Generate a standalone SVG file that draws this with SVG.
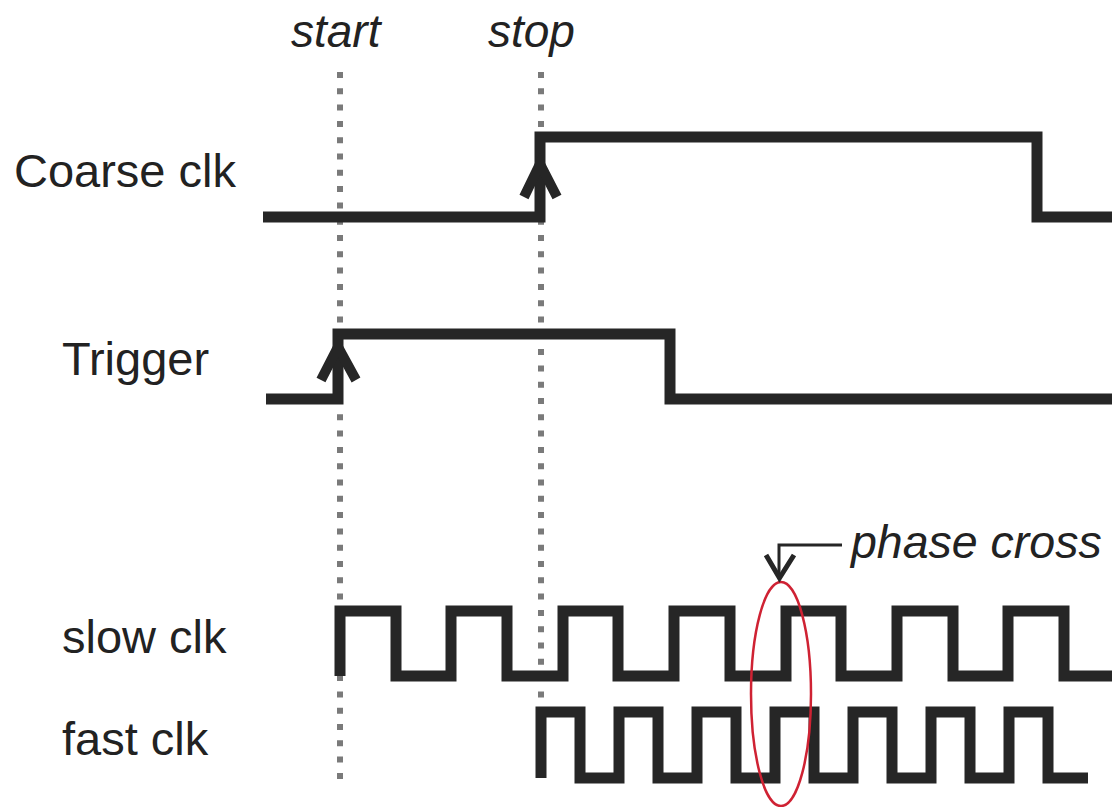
<svg xmlns="http://www.w3.org/2000/svg" width="1112" height="807" viewBox="0 0 1112 807">
<style>
.lbl{font-family:"Liberation Sans",Arial,sans-serif;font-size:47px;fill:#222}
.it{font-style:italic;font-size:46px}
.wave{fill:none;stroke:#262626;stroke-width:11;stroke-linejoin:miter;stroke-linecap:butt}
.chev{fill:none;stroke:#262626;stroke-width:10;stroke-linejoin:miter}
.dot{fill:none;stroke:#7a7a7a;stroke-width:6;stroke-dasharray:6 10.3}
</style>
<rect width="1112" height="807" fill="#fff"/>
<g id="guides">
<line class="dot" x1="340" y1="72" x2="340" y2="780"/>
<line class="dot" x1="541" y1="72" x2="541" y2="698"/>
<text class="lbl it" x="291" y="47">start</text>
<text class="lbl it" x="488" y="47">stop</text>
</g>
<g id="coarse">
<text class="lbl" x="14" y="187">Coarse clk</text>
<path class="wave" d="M263,217 H540 V137 H1037 V217 H1112"/>
<path class="chev" d="M524,197 L540,164 L557,197"/>
</g>
<g id="trigger">
<text class="lbl" x="62" y="375">Trigger</text>
<path class="wave" d="M266,399 H338 V334 H670 V399 H1112"/>
<path class="chev" d="M321,380 L338,347 L356,380"/>
</g>
<g id="slow">
<text class="lbl" x="62" y="653">slow clk</text>
<path class="wave" d="M340,676 V611 H396 V676 H451 V611 H507 V676 H563 V611 H618 V676 H674 V611 H730 V676 H786 V611 H841 V676 H897 V611 H953 V676 H1008 V611 H1064 V676 H1112"/>
</g>
<g id="fast">
<text class="lbl" x="62" y="755">fast clk</text>
<path class="wave" d="M541,778 V712 H580 V778 H619 V712 H658 V778 H697 V712 H736 V778 H775 V712 H814 V778 H853 V712 H892 V778 H931 V712 H970 V778 H1009 V712 H1048 V778 H1088"/>
</g>
<g id="phase-cross">
<ellipse cx="781" cy="694" rx="30" ry="112" fill="none" stroke="#cf2233" stroke-width="2.5"/>
<text class="lbl it" x="851" y="558" style="font-size:46.5px">phase cross</text>
</g>
<g id="connectors">
<path d="M842,545 H779 V578" fill="none" stroke="#262626" stroke-width="3"/>
<path d="M766,555 L779.5,578 L794,555" fill="none" stroke="#262626" stroke-width="5"/>
</g>
</svg>
